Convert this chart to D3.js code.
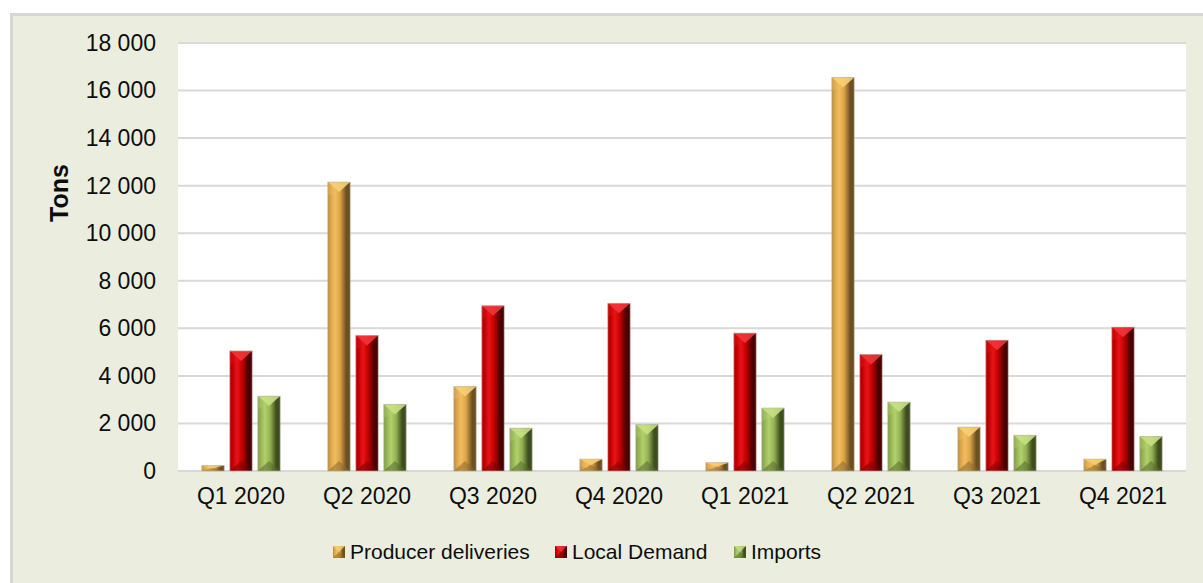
<!DOCTYPE html>
<html>
<head>
<meta charset="utf-8">
<script src="https://cdn.jsdelivr.net/npm/d3@7"></script>
<style>
  html, body { margin: 0; padding: 0; background: #ffffff; }
  svg { display: block; font-family: "Liberation Sans", Arial, sans-serif; }
</style>
</head>
<body>
<svg id="chart" width="1203" height="583"></svg>
<script>
// Quarterly volumes, tons
const categories = ["Q1 2020", "Q2 2020", "Q3 2020", "Q4 2020", "Q1 2021", "Q2 2021", "Q3 2021", "Q4 2021"];
const seriesNames = ["Producer deliveries", "Local Demand", "Imports"];
const producerDeliveries = [230, 12150, 3550, 500, 350, 16550, 1850, 500];
const localDemand = [5050, 5700, 6950, 7050, 5800, 4900, 5500, 6050];
const imports = [3150, 2800, 1800, 1950, 2650, 2900, 1500, 1450];
const yTicks = [0, 2000, 4000, 6000, 8000, 10000, 12000, 14000, 16000, 18000];
const yLabel = "Tons";

const seriesValues = [producerDeliveries, localDemand, imports];

// bevelled bar palette per series: edge, light, mid, dark, top facet, bottom facet
const palette = [
  { id: "gold",  edge: "#B58A42", light: "#F1BE5E", mid: "#D9A348", dark: "#6E5020", top: "#F7CF74", bottom: "#8C6A2C" },
  { id: "red",   edge: "#A80000", light: "#E8141A", mid: "#C20000", dark: "#4A0000", top: "#F2343A", bottom: "#7A0000" },
  { id: "green", edge: "#7E9A45", light: "#B3D06C", mid: "#94B254", dark: "#3E4E1E", top: "#C7E084", bottom: "#566C2A" }
];

const W = 1203, H = 583;
const plot = { left: 178, right: 1186, top: 43, bottom: 471 };

const svg = d3.select("#chart");

// chart area background with a light frame on the top and left
svg.append("rect").attr("x", 12).attr("y", 15).attr("width", W - 12).attr("height", H - 15)
  .attr("fill", "#EBEEDF");
svg.append("line").attr("x1", 11).attr("x2", W).attr("y1", 14.5).attr("y2", 14.5)
  .attr("stroke", "#D6D6D6").attr("stroke-width", 3);
svg.append("line").attr("x1", 11.5).attr("x2", 11.5).attr("y1", 13).attr("y2", H)
  .attr("stroke", "#D6D6D6").attr("stroke-width", 3);

// plot area
svg.append("rect").attr("x", plot.left).attr("y", plot.top)
  .attr("width", plot.right - plot.left).attr("height", plot.bottom - plot.top)
  .attr("fill", "#ffffff");

const x0 = d3.scaleBand().domain(categories).range([plot.left, plot.right])
  .paddingInner(0.378).paddingOuter(0.189);
const x1 = d3.scaleBand().domain(seriesNames).range([0, x0.bandwidth()])
  .paddingInner(0.2).paddingOuter(0);
const y = d3.scaleLinear().domain([0, 18000]).range([plot.bottom, plot.top]);

const locale = d3.formatLocale({ decimal: ".", thousands: " ", grouping: [3], currency: ["", ""] });
const fmt = locale.format(",");

// gradients
const defs = svg.append("defs");
palette.forEach(p => {
  const g = defs.append("linearGradient").attr("id", "grad-" + p.id)
    .attr("x1", "0").attr("x2", "1").attr("y1", "0").attr("y2", "0");
  g.append("stop").attr("offset", "0").attr("stop-color", p.edge);
  g.append("stop").attr("offset", "0.12").attr("stop-color", p.mid);
  g.append("stop").attr("offset", "0.32").attr("stop-color", p.light);
  g.append("stop").attr("offset", "0.55").attr("stop-color", p.mid);
  g.append("stop").attr("offset", "0.82").attr("stop-color", p.dark);
  g.append("stop").attr("offset", "1").attr("stop-color", p.dark);
});

// gridlines
const grid = svg.append("g");
grid.selectAll("line").data(yTicks).join("line")
  .attr("x1", plot.left).attr("x2", plot.right)
  .attr("y1", d => y(d)).attr("y2", d => y(d))
  .attr("stroke", "#D9D9D9").attr("stroke-width", 2);

// y axis labels
const yAxis = svg.append("g").attr("transform", `translate(${plot.left},0)`)
  .call(d3.axisLeft(y).tickValues(yTicks).tickFormat(fmt).tickSize(0).tickPadding(22));
yAxis.select(".domain").remove();
yAxis.selectAll("text").attr("font-size", 23).attr("fill", "#0d0d0d")
  .attr("font-family", "'Liberation Sans', Arial, sans-serif");

// x axis labels
const xAxis = svg.append("g").attr("transform", `translate(0,${plot.bottom})`)
  .call(d3.axisBottom(x0).tickSize(0).tickPadding(17));
xAxis.select(".domain").remove();
xAxis.selectAll("text").attr("font-size", 23).attr("fill", "#0d0d0d")
  .attr("font-family", "'Liberation Sans', Arial, sans-serif");

// axis title
svg.append("text")
  .attr("transform", `translate(68,193) rotate(-90)`)
  .attr("text-anchor", "middle")
  .attr("font-size", 25).attr("font-weight", "bold").attr("fill", "#0d0d0d")
  .text(yLabel);

// draws one bevelled bar
function bevelBar(g, x, yTop, w, h, p) {
  g.append("rect").attr("x", x).attr("y", yTop).attr("width", w).attr("height", h)
    .attr("fill", `url(#grad-${p.id})`);
  const bev = Math.min(10, h / 2, w / 2);
  const cx = x + w / 2;
  g.append("path")
    .attr("d", `M${x},${yTop} L${x + w},${yTop} L${cx},${yTop + bev} Z`)
    .attr("fill", p.top).attr("opacity", 0.9);
  g.append("path")
    .attr("d", `M${x},${yTop} L${cx},${yTop + bev} L${x},${yTop + bev * 1.3} Z`)
    .attr("fill", p.light).attr("opacity", 0.35);
  g.append("path")
    .attr("d", `M${x},${yTop + h} L${x + w},${yTop + h} L${cx},${yTop + h - bev} Z`)
    .attr("fill", p.bottom).attr("opacity", 0.55);
  g.append("rect").attr("x", x).attr("y", yTop).attr("width", w).attr("height", h)
    .attr("fill", "none").attr("stroke", "#BDB6A8").attr("stroke-opacity", 0.6).attr("stroke-width", 1);
}

const barsG = svg.append("g");
categories.forEach((cat, i) => {
  seriesNames.forEach((s, j) => {
    const v = seriesValues[j][i];
    const x = x0(cat) + x1(s);
    const yt = y(v);
    bevelBar(barsG, x, yt, x1.bandwidth(), y(0) - yt, palette[j]);
  });
});

// legend
const legendItems = [
  { name: seriesNames[0], box: 333, text: 350 },
  { name: seriesNames[1], box: 555, text: 572 },
  { name: seriesNames[2], box: 734, text: 751 }
];
const legend = svg.append("g");
legendItems.forEach((it, j) => {
  const p = palette[j];
  const g = legend.append("g");
  g.append("rect").attr("x", it.box).attr("y", 546).attr("width", 12).attr("height", 12)
    .attr("fill", `url(#grad-${p.id})`);
  g.append("path").attr("d", `M${it.box},${546} L${it.box + 12},${546} L${it.box + 6},${552} Z`)
    .attr("fill", p.top).attr("opacity", 0.8);
  g.append("path").attr("d", `M${it.box},${558} L${it.box + 12},${558} L${it.box + 6},${552} Z`)
    .attr("fill", p.bottom).attr("opacity", 0.6);
  g.append("text").attr("x", it.text).attr("y", 559)
    .attr("font-size", 21).attr("fill", "#0d0d0d")
    .text(it.name);
});
</script>
</body>
</html>
